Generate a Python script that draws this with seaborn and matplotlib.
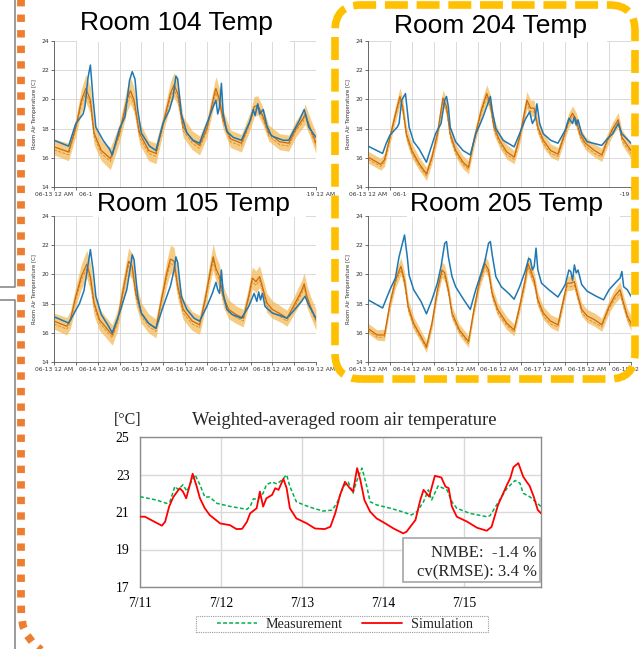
import numpy as np
import matplotlib
matplotlib.use('Agg')
import matplotlib.pyplot as plt
import seaborn as sns
from matplotlib.lines import Line2D
from matplotlib.patches import FancyBboxPatch, Rectangle

sns.set_theme(style='white')
plt.rcParams['font.family'] = ['DejaVu Sans']

W, H = 641, 649

# x tick labels of the four room panels (hours since 06-13 00:00)
day_labels = ['06-13 12 AM', '06-14 12 AM', '06-15 12 AM', '06-16 12 AM',
              '06-17 12 AM', '06-18 12 AM', '06-19 12 AM']

# measured room temperature (hour, degC)
blue_104 = [(0, 17.2), (8, 16.8), (12, 18.35), (16, 19.0), (17, 19.5), (18.7, 21.5), (20, 22.35),
            (21.5, 20.0), (23, 18.1), (27, 17.2), (30.5, 16.6), (32, 16.2), (36, 18.0), (39, 18.8),
            (41.5, 21.3), (43, 21.9), (44.5, 21.4), (46, 19.3), (48, 17.7), (52.5, 16.8), (56, 16.5),
            (60, 18.4), (63.5, 19.3), (65.5, 20.2), (67, 21.6), (68, 21.4), (70, 19.0), (73, 17.7),
            (76.5, 17.2), (80, 17.0), (84, 18.35), (87.5, 19.5), (89, 19.95), (90, 19.0), (91, 19.5),
            (92, 21.1), (93, 19.0), (95, 17.8), (98.5, 17.4), (103, 17.2), (107.5, 18.45), (109.5, 19.3),
            (110.5, 18.9), (112, 19.7), (113, 19.0), (115, 19.3), (117, 18.2), (119.5, 17.5), (126, 17.2),
            (129, 17.2), (131.5, 17.8), (135, 18.6), (137.5, 19.3), (138.5, 18.9), (140, 18.1), (144, 17.4)]
blue_204 = [(0, 16.8), (8, 16.3), (10, 17.0), (12, 17.55), (16, 18.1), (17, 18.35), (18.5, 19.95),
            (20.5, 20.4), (21.5, 19.25), (22.5, 18.1), (25, 17.1), (28, 16.6), (32, 15.7), (34, 16.5),
            (37, 17.65), (40, 18.35), (42, 19.95), (43, 20.2), (44, 19.5), (45, 18.1), (48, 17.1),
            (52, 16.5), (56, 16.2), (59, 17.65), (61, 18.2), (63, 18.8), (66, 19.85), (67, 20.2),
            (68, 19.25), (70, 18.0), (74, 17.2), (80, 16.75), (83, 17.65), (86, 18.6), (88.5, 19.15),
            (90, 18.35), (91.5, 18.7), (92.5, 19.7), (94, 18.35), (96, 17.65), (100, 17.2), (104, 17.0),
            (108, 17.9), (110, 18.7), (112, 18.35), (113, 18.8), (114, 18.25), (115, 18.6), (117, 17.65),
            (120, 17.1), (128, 16.85), (131, 17.3), (134, 17.65), (137, 18.35), (139, 17.65), (144, 17.0)]
blue_105 = [(0, 17.1), (8, 16.67), (10, 17.1), (14, 18.0), (16.5, 18.9), (18, 20.1), (20, 21.7),
            (21.5, 20.3), (23, 18.5), (26, 17.25), (30, 16.45), (32, 16.0), (36, 17.35), (40, 18.95),
            (42, 20.5), (43, 21.35), (44, 21.0), (46, 18.5), (48, 17.35), (52, 16.65), (56, 16.3),
            (60, 17.8), (64, 19.2), (66, 20.3), (67, 21.2), (68, 20.8), (70, 18.5), (73, 17.6),
            (77, 17.0), (80, 16.8), (84, 17.8), (87, 18.7), (89, 19.45), (90, 18.95), (91, 18.7),
            (92, 20.3), (93, 18.7), (95, 17.6), (98, 17.25), (103, 17.0), (107, 17.8), (110, 18.7),
            (111.5, 18.15), (112.5, 18.8), (113.5, 18.25), (114.5, 18.7), (116, 17.8), (120, 17.35),
            (125, 17.15), (128, 17.0), (132, 17.55), (136, 18.15), (138, 18.5), (140, 17.9), (144, 17.0)]
blue_205 = [(0, 18.26), (8, 17.7), (12, 18.95), (15, 19.75), (17, 21.2), (20, 22.7), (21.5, 21.2),
            (22.5, 19.95), (25, 18.95), (29, 18.15), (32, 17.3), (35, 18.26), (38, 19.4), (40, 20.55),
            (42, 22.13), (43, 22.25), (44, 21.2), (46, 19.85), (48, 19.15), (52, 18.35), (56, 17.6),
            (59, 18.95), (62, 20.1), (64, 20.9), (66, 22.13), (67, 22.25), (68, 21.35), (70, 19.85),
            (73, 19.15), (77, 18.7), (80, 18.3), (83, 19.15), (86, 20.2), (88, 21.1), (89, 21.0),
            (90, 20.3), (91, 20.55), (92, 21.8), (93, 20.3), (95, 19.4), (99, 18.95), (104, 18.45),
            (108, 19.3), (110, 20.3), (111, 20.2), (112, 19.6), (113, 20.65), (114, 20.1), (115, 20.3),
            (117, 19.3), (120, 18.85), (125, 18.5), (129, 18.26), (132, 18.95), (136, 19.5), (138, 19.75),
            (139, 20.2), (140, 19.15), (142, 18.95), (144, 18.5)]

# simulated: (hour, mean, band half-width, drop of the dashed line below the mean)
orange_104 = [(0, 16.75, 0.55, 0.2), (8, 16.4, 0.6, 0.2), (12, 18.1, 0.6, 0.15), (15, 19.9, 0.8, 0.25),
              (17.5, 20.75, 0.95, 0.3), (20, 19.95, 0.9, 0.3), (22, 17.7, 0.8, 0.25), (26, 16.5, 0.7, 0.2),
              (31, 15.95, 0.75, 0.2), (36, 17.7, 0.65, 0.15), (40, 19.95, 0.8, 0.25), (42, 20.6, 0.9, 0.3),
              (44, 19.95, 0.85, 0.3), (47, 17.7, 0.75, 0.25), (52, 16.5, 0.7, 0.2), (56, 16.3, 0.7, 0.2),
              (60, 18.35, 0.6, 0.15), (64, 20.4, 0.8, 0.25), (66, 21.0, 0.85, 0.3), (68, 20.4, 0.8, 0.3),
              (71, 18.1, 0.7, 0.25), (76, 17.2, 0.65, 0.2), (80, 16.85, 0.65, 0.2), (84, 18.0, 0.6, 0.15),
              (88, 20.3, 0.7, 0.25), (89, 20.75, 0.8, 0.3), (91, 19.95, 0.75, 0.25), (93, 18.6, 0.65, 0.2),
              (97, 17.3, 0.6, 0.2), (103, 17.0, 0.6, 0.2), (108, 18.6, 0.6, 0.15), (110, 19.5, 0.7, 0.2),
              (112, 19.6, 0.65, 0.2), (115, 18.8, 0.6, 0.2), (118, 17.7, 0.55, 0.2), (124, 17.1, 0.55, 0.2),
              (129, 17.0, 0.55, 0.2), (133, 18.0, 0.55, 0.15), (137, 18.7, 0.6, 0.2), (138, 19.0, 0.7, 0.2),
              (141, 18.0, 0.65, 0.2), (144, 17.0, 0.7, 0.2)]
orange_204 = [(0, 16.05, 0.4, 0.15), (7, 15.55, 0.4, 0.15), (9, 15.85, 0.45, 0.15), (12, 17.4, 0.45, 0.15),
              (15, 19.0, 0.55, 0.2), (17.5, 20.2, 0.6, 0.25), (19, 19.5, 0.6, 0.25), (21, 17.65, 0.55, 0.2),
              (24, 16.5, 0.5, 0.2), (28, 15.6, 0.45, 0.15), (32, 14.9, 0.45, 0.15), (35, 16.05, 0.45, 0.15),
              (38, 17.65, 0.5, 0.2), (41, 20.1, 0.55, 0.25), (43, 19.5, 0.55, 0.25), (45, 17.65, 0.5, 0.2),
              (48, 16.5, 0.45, 0.2), (52, 15.7, 0.45, 0.15), (55, 15.35, 0.45, 0.15), (58, 17.2, 0.5, 0.15),
              (62, 19.25, 0.55, 0.2), (65, 20.4, 0.6, 0.25), (67, 19.7, 0.6, 0.25), (69, 18.1, 0.55, 0.2),
              (72, 17.2, 0.5, 0.2), (76, 16.4, 0.5, 0.2), (80, 16.05, 0.45, 0.15), (83, 17.4, 0.5, 0.15),
              (87, 19.95, 0.6, 0.25), (89, 19.4, 0.55, 0.25), (91, 19.4, 0.55, 0.25), (93, 18.1, 0.5, 0.2),
              (96, 17.2, 0.5, 0.2), (100, 16.5, 0.45, 0.2), (104, 16.25, 0.45, 0.15), (107, 17.4, 0.45, 0.15),
              (110, 18.6, 0.5, 0.2), (112, 19.05, 0.5, 0.2), (114, 18.6, 0.5, 0.2), (116, 17.65, 0.45, 0.2),
              (119, 17.0, 0.45, 0.2), (124, 16.5, 0.45, 0.2), (128, 16.2, 0.45, 0.15), (131, 17.2, 0.45, 0.15),
              (134, 18.0, 0.45, 0.15), (137, 18.6, 0.5, 0.2), (139, 17.4, 0.5, 0.2), (144, 16.5, 0.55, 0.2)]
orange_105 = [(0, 16.8, 0.55, 0.2), (7, 16.45, 0.6, 0.2), (9, 16.9, 0.6, 0.2), (12, 18.5, 0.7, 0.2),
              (15, 19.85, 0.85, 0.25), (18, 20.7, 0.95, 0.3), (20, 19.85, 0.95, 0.3), (22, 18.05, 0.85, 0.25),
              (25, 16.9, 0.75, 0.2), (28, 16.45, 0.7, 0.2), (32, 15.85, 0.7, 0.2), (35, 16.9, 0.7, 0.2),
              (38, 18.95, 0.8, 0.25), (41, 20.9, 0.9, 0.3), (43, 20.55, 0.9, 0.3), (45, 18.7, 0.8, 0.25),
              (48, 17.35, 0.7, 0.2), (52, 16.65, 0.65, 0.2), (56, 16.3, 0.65, 0.2), (59, 18.25, 0.7, 0.2),
              (62, 20.1, 0.85, 0.25), (64, 21.05, 0.95, 0.3), (66, 20.9, 0.95, 0.3), (68, 19.2, 0.85, 0.25),
              (71, 17.6, 0.7, 0.25), (76, 16.8, 0.65, 0.2), (80, 16.55, 0.65, 0.2), (83, 18.25, 0.7, 0.2),
              (86, 20.3, 0.8, 0.25), (87.5, 21.2, 0.9, 0.3), (89, 20.4, 0.85, 0.3), (91, 19.85, 0.8, 0.25),
              (93, 18.5, 0.7, 0.25), (96, 17.6, 0.65, 0.2), (100, 17.25, 0.6, 0.2), (104, 17.0, 0.6, 0.2),
              (107, 18.5, 0.65, 0.2), (109, 19.75, 0.75, 0.25), (111, 19.5, 0.75, 0.25), (113, 19.85, 0.75, 0.25),
              (115, 18.95, 0.7, 0.25), (117, 18.05, 0.65, 0.2), (120, 17.6, 0.6, 0.2), (125, 17.25, 0.55, 0.2),
              (128, 17.0, 0.55, 0.2), (132, 17.9, 0.6, 0.2), (136, 18.85, 0.7, 0.2), (137.5, 19.35, 0.75, 0.25),
              (139, 18.5, 0.75, 0.25), (141, 17.8, 0.7, 0.2), (144, 16.9, 0.7, 0.2)]
orange_205 = [(0, 16.3, 0.35, 0.15), (5, 15.85, 0.35, 0.15), (9, 15.85, 0.4, 0.15), (12, 18.0, 0.45, 0.15),
              (15, 19.6, 0.55, 0.2), (18, 20.55, 0.6, 0.25), (20, 19.6, 0.6, 0.25), (22, 17.8, 0.5, 0.2),
              (25, 16.65, 0.45, 0.2), (29, 15.75, 0.4, 0.15), (32, 15.05, 0.4, 0.15), (35, 16.65, 0.45, 0.15),
              (38, 18.95, 0.5, 0.2), (40.5, 20.3, 0.55, 0.25), (42, 20.1, 0.55, 0.25), (44, 18.95, 0.5, 0.2),
              (46, 17.35, 0.45, 0.2), (50, 16.2, 0.4, 0.15), (55, 15.4, 0.4, 0.15), (58, 17.6, 0.45, 0.15),
              (61, 19.5, 0.5, 0.2), (64, 20.75, 0.55, 0.25), (66, 20.3, 0.55, 0.25), (68, 18.7, 0.5, 0.2),
              (71, 17.6, 0.45, 0.2), (76, 16.65, 0.45, 0.15), (80, 16.2, 0.4, 0.15), (83, 17.8, 0.45, 0.15),
              (86, 19.6, 0.55, 0.2), (87.5, 20.75, 0.6, 0.25), (89, 20.3, 0.6, 0.25), (91, 19.6, 0.55, 0.25),
              (93, 18.26, 0.5, 0.2), (96, 17.35, 0.45, 0.2), (100, 16.8, 0.45, 0.2), (104, 16.55, 0.45, 0.15),
              (107, 18.26, 0.45, 0.2), (109, 19.4, 0.5, 0.2), (111, 19.4, 0.5, 0.25), (113, 19.5, 0.5, 0.25),
              (115, 18.5, 0.5, 0.2), (117, 17.6, 0.45, 0.2), (120, 17.15, 0.45, 0.2), (124, 16.9, 0.45, 0.2),
              (128, 16.55, 0.45, 0.15), (132, 17.8, 0.45, 0.15), (135, 18.5, 0.5, 0.2), (138, 18.95, 0.55, 0.25),
              (140, 18.0, 0.5, 0.2), (142, 17.15, 0.5, 0.2), (144, 16.65, 0.5, 0.2)]

# weighted-averaged room air temperature (days since 7/11)
avg_labels = ['7/11', '7/12', '7/13', '7/14', '7/15']
meas_day = [0, 0.2, 0.33, 0.37, 0.43, 0.47, 0.53, 0.58, 0.62, 0.68, 0.74, 0.80, 0.86, 0.95, 1.11,
            1.32, 1.36, 1.40, 1.46, 1.52, 1.56, 1.63, 1.69, 1.75, 1.81, 1.85, 1.93, 2.02, 2.14, 2.26,
            2.37, 2.43, 2.51, 2.57, 2.63, 2.67, 2.74, 2.80, 2.84, 2.92, 3.09, 3.25, 3.35, 3.42, 3.50,
            3.56, 3.60, 3.68, 3.79, 3.85, 3.91, 4.07, 4.28, 4.32, 4.44, 4.53, 4.63, 4.69, 4.73, 4.81, 4.95]
meas_temp = [21.82, 21.64, 21.46, 21.55, 22.36, 22.2, 22.45, 22.1, 22.5, 22.98, 22.45, 21.8, 21.8, 21.46, 21.3,
             21.14, 21.3, 21.7, 21.68, 22.0, 22.45, 22.6, 22.5, 22.7, 22.98, 22.36, 21.55, 21.38, 21.2, 21.05,
             21.1, 21.46, 22.36, 22.6, 22.0, 22.6, 23.34, 22.36, 21.55, 21.38, 21.2, 21.0, 20.84, 21.02, 21.55,
             22.18, 21.64, 22.39, 22.18, 21.55, 21.2, 20.93, 20.75, 20.8, 21.64, 22.27, 22.68, 22.54, 22.0, 21.82, 21.29]
sim_day = [0, 0.06, 0.27, 0.31, 0.36, 0.41, 0.49, 0.53, 0.57, 0.61, 0.65, 0.70, 0.74, 0.80, 0.86,
           0.99, 1.11, 1.19, 1.26, 1.32, 1.36, 1.44, 1.48, 1.52, 1.56, 1.63, 1.67, 1.71, 1.77, 1.81,
           1.85, 1.93, 2.06, 2.16, 2.28, 2.35, 2.41, 2.47, 2.53, 2.59, 2.63, 2.68, 2.72, 2.77, 2.84,
           2.92, 3.04, 3.13, 3.25, 3.29, 3.40, 3.46, 3.50, 3.57, 3.64, 3.72, 3.77, 3.81, 3.85, 3.91,
           4.04, 4.16, 4.28, 4.34, 4.42, 4.53, 4.57, 4.61, 4.67, 4.73, 4.77, 4.81, 4.86, 4.91, 4.95]
sim_temp = [20.75, 20.75, 20.27, 20.48, 21.29, 21.79, 22.27, 22.09, 21.73, 22.36, 23.04, 22.36, 21.73, 21.2, 20.84,
            20.39, 20.30, 20.09, 20.1, 20.48, 20.93, 21.2, 22.09, 21.29, 21.73, 21.91, 22.27, 22.18, 22.77, 22.27,
            21.2, 20.66, 20.39, 20.12, 20.09, 20.21, 20.93, 21.91, 22.61, 22.27, 22.09, 23.34, 22.71, 21.64, 21.02,
            20.66, 20.36, 20.12, 19.86, 19.95, 20.57, 21.64, 22.18, 21.82, 22.93, 22.84, 22.36, 22.27, 21.29, 20.75,
            20.48, 20.16, 20.0, 20.21, 21.38, 22.45, 22.8, 23.39, 23.61, 22.89, 22.63, 22.39, 21.82, 21.11, 20.93]


def fx(px):
    return px / W


def fy(py):
    return 1 - py / H


def box(left, top, right, bottom):
    return [fx(left), fy(bottom), (right - left) / W, (bottom - top) / H]


fig = plt.figure(figsize=(W / 100, H / 100), dpi=100)
fig.patch.set_facecolor('white')


def room_panel(rect, blue, orange):
    ax = fig.add_axes(rect)
    bh, bv = zip(*blue)
    oh, om, ohw, odrop = map(np.array, zip(*orange))
    ax.fill_between(oh, om - ohw, om + ohw, color='#f3b64f', alpha=0.7, lw=0, zorder=1)
    sns.lineplot(x=oh, y=om - odrop, ax=ax, color='#dd8a20', lw=0.6, linestyle='--', zorder=2)
    sns.lineplot(x=oh, y=om, ax=ax, color='#cc6a0a', lw=0.9, zorder=3)
    sns.lineplot(x=list(bh), y=list(bv), ax=ax, color='#1f77b4', lw=1.1, zorder=4)
    ax.set_xlim(0, 144)
    ax.set_ylim(14, 24)
    ax.set_xticks(range(0, 145, 24))
    ax.set_xticklabels(day_labels)
    ax.set_xticks(range(12, 145, 24), minor=True)
    ax.set_yticks(range(14, 25, 2))
    ax.grid(True, which='both', color='#d4d4d4', lw=0.6)
    ax.set_axisbelow(True)
    for s in ['top', 'right']:
        ax.spines[s].set_visible(False)
    for s in ['left', 'bottom']:
        ax.spines[s].set_color('#555555')
        ax.spines[s].set_linewidth(0.6)
    ax.tick_params(which='both', labelsize=4.3, colors='#333333', length=2, width=0.5, pad=1.5,
                   bottom=True, left=True)
    ax.set_ylabel('Room Air Temperature [C]', fontsize=3.9, color='#333333', labelpad=3)
    ax.set_xlabel('')
    return ax


room_panel(box(54, 41, 316, 187), blue_104, orange_104)
room_panel(box(368, 41, 631, 187), blue_204, orange_204)
room_panel(box(54, 216, 316, 362), blue_105, orange_105)
room_panel(box(368, 216, 631, 362), blue_205, orange_205)

# room titles sit on white text boxes that hide what lies under them
titles = [('Room 104 Temp', 176, 30, (77, 4, 290, 42)),
          ('Room 204 Temp', 491, 33, (392, 9, 607, 42)),
          ('Room 105 Temp', 193, 211, (93, 188, 306, 217)),
          ('Room 205 Temp', 506, 211, (407, 188, 620, 217))]
for label, cx, base, (l, t, r, b) in titles:
    fig.add_artist(Rectangle((fx(l), fy(b)), (r - l) / W, (b - t) / H, transform=fig.transFigure,
                             fc='white', ec='none', zorder=5))
    fig.text(fx(cx), fy(base), label, fontsize=19, family=['Liberation Sans', 'DejaVu Sans'],
             ha='center', va='baseline', color='black', zorder=6)

# bottom chart
serif = ['Liberation Serif', 'DejaVu Serif']
axb = fig.add_axes(box(140, 437, 541, 587))
sns.lineplot(x=meas_day, y=meas_temp, ax=axb, color='#00b050', lw=1.1, linestyle=(0, (2.5, 1.5)), zorder=3)
sns.lineplot(x=sim_day, y=sim_temp, ax=axb, color='#ff0000', lw=1.3, zorder=4)
axb.set_xlim(0, 4.95)
axb.set_ylim(17, 25)
axb.set_xticks(range(5))
axb.set_xticklabels(avg_labels)
axb.set_yticks([17, 19, 21, 23, 25])
axb.grid(True, color='#d9d9d9', lw=1.0)
axb.set_axisbelow(True)
for s in axb.spines.values():
    s.set_color('#8c8c8c')
    s.set_linewidth(1.0)
axb.tick_params(length=0, labelsize=9.8, colors='black', pad=7.5)
for lab in axb.get_xticklabels() + axb.get_yticklabels():
    lab.set_family(serif)
axb.set_xlabel('')
axb.set_ylabel('')

fig.text(fx(344), fy(425), 'Weighted-averaged room air temperature', family=serif, fontsize=13.3,
         ha='center', va='baseline')
fig.text(fx(114), fy(424), '[\u00b0C]', family=serif, fontsize=11.5, ha='left', va='baseline')

fig.add_artist(Rectangle((fx(403), fy(582)), (540 - 403) / W, (582 - 538) / H, transform=fig.transFigure,
                         fc='white', ec='#a6a6a6', lw=1.2, zorder=5))
fig.text(fx(537), fy(557), 'NMBE:  -1.4 %', family=serif, fontsize=12, ha='right', va='baseline', zorder=6)
fig.text(fx(537), fy(576), 'cv(RMSE): 3.4 %', family=serif, fontsize=12, ha='right', va='baseline', zorder=6)

# legend: dotted box drawn separately, entries placed by the legend itself
fig.add_artist(Rectangle((fx(196), fy(632)), (488 - 196) / W, (632 - 616) / H, transform=fig.transFigure,
                         fc='white', ec='#9a9a9a', lw=0.8, linestyle=(0, (1, 1)), zorder=5))
handles = [Line2D([], [], color='#00b050', lw=1.1, linestyle=(0, (2.5, 1.5))),
           Line2D([], [], color='#ff0000', lw=1.3)]
leg = fig.legend(handles, ['Measurement', 'Simulation'], loc='center', bbox_to_anchor=(fx(345), fy(624)),
                 ncol=2, frameon=False, prop={'family': serif, 'size': 10.2},
                 handlelength=2.8, columnspacing=1.4, handletextpad=0.6, borderpad=0.1, borderaxespad=0)
leg.set_zorder(6)

# slide decorations: yellow dashed frame, orange dotted line, gray connectors
fig.add_artist(FancyBboxPatch((fx(335), fy(379)), (635 - 335) / W, (379 - 5) / H,
                              boxstyle='round,pad=0,rounding_size=0.04', transform=fig.transFigure,
                              fill=False, ec='#ffc000', lw=5.5, linestyle=(0, (3.0, 1.15)),
                              capstyle='butt', zorder=10))
ox = [21, 21, 21.3, 23, 27, 33, 41, 50]
oy = [-4.5, 600, 615, 626, 635, 643, 650, 656]
fig.add_artist(Line2D([fx(v) for v in ox], [fy(v) for v in oy], transform=fig.transFigure,
                      color='#ed7d31', lw=5.6, linestyle=(0, (0.95, 1.05)), dash_capstyle='butt', zorder=10))
fig.add_artist(Line2D([fx(15), fx(15), fx(0)], [fy(0), fy(287), fy(287)], transform=fig.transFigure,
                      color='#8a8a8a', lw=1.2, zorder=9))
fig.add_artist(Line2D([fx(0), fx(15), fx(15)], [fy(300), fy(300), fy(649)], transform=fig.transFigure,
                      color='#8a8a8a', lw=1.2, zorder=9))

fig.savefig('out.png', dpi=100, facecolor='white')
